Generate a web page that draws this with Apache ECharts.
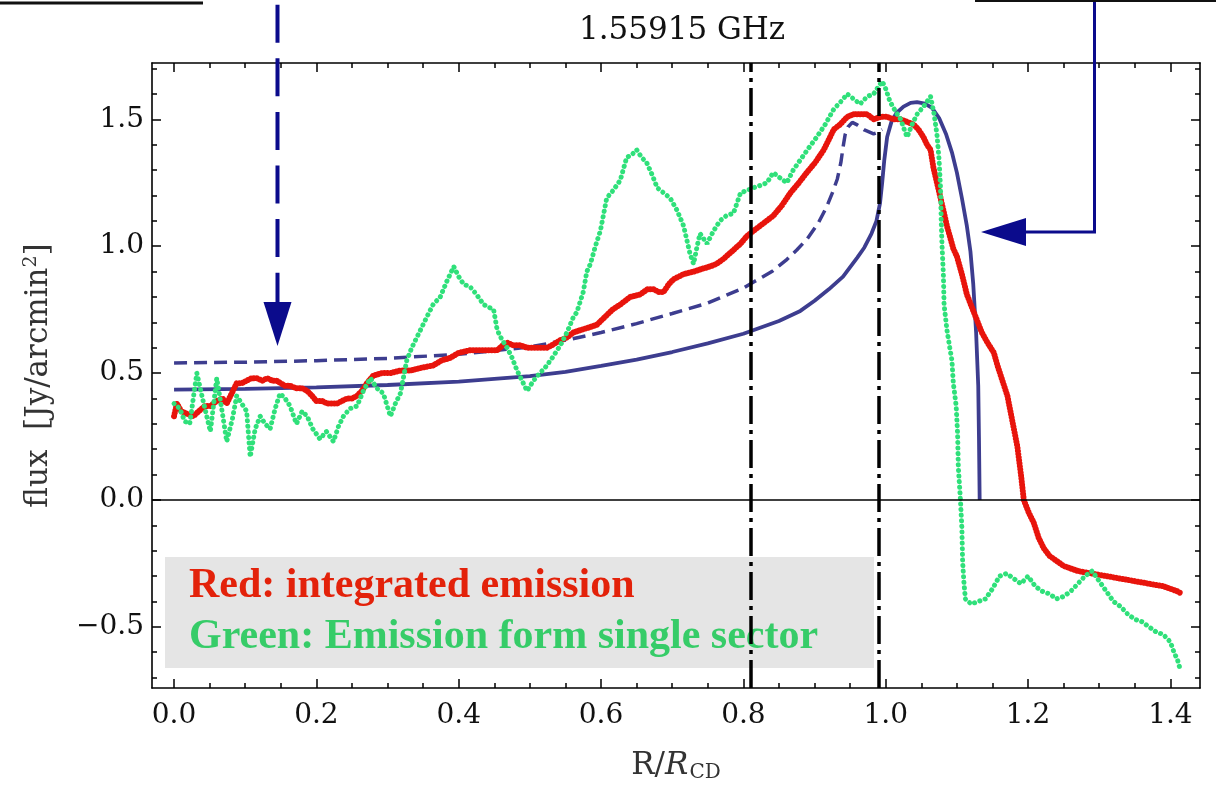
<!DOCTYPE html>
<html>
<head>
<meta charset="utf-8">
<title>1.55915 GHz</title>
<script src="https://cdn.jsdelivr.net/npm/echarts@6/dist/echarts.min.js"></script>
<style>
html, body { margin: 0; padding: 0; background: #fff; }
#chart { width: 1216px; height: 793px; }
</style>
</head>
<body>
<div id="chart"></div>
<script>
// 刻度
const xTicks = [0, 0.2, 0.4, 0.6, 0.8, 1.0, 1.2, 1.4]
const yTicks = [-0.5, 0, 0.5, 1.0, 1.5]
const xRange = [-0.031, 1.4416]
const yRange = [-0.741, 1.722]
// 竖直点划线位置
const markX = [0.815, 0.995]

// 模型曲线 (蓝色实线 / 虚线)
const modelSolid = [
  [0, 0.435], [0.1, 0.438], [0.2, 0.444], [0.3, 0.453], [0.4, 0.466], [0.5, 0.488],
  [0.55, 0.505], [0.6, 0.528], [0.65, 0.553], [0.7, 0.583], [0.75, 0.617], [0.8, 0.655],
  [0.85, 0.705], [0.88, 0.745], [0.9, 0.785], [0.92, 0.83], [0.94, 0.88], [0.96, 0.955],
  [0.97, 0.995], [0.98, 1.05], [0.987, 1.1], [0.992, 1.17], [0.995, 1.25], [0.998, 1.34],
  [1.002, 1.43], [1.008, 1.49], [1.015, 1.525], [1.025, 1.55], [1.035, 1.565], [1.044, 1.568],
  [1.055, 1.562], [1.065, 1.545], [1.075, 1.505], [1.085, 1.44], [1.093, 1.37], [1.1, 1.29],
  [1.107, 1.19], [1.114, 1.08], [1.119, 0.98], [1.123, 0.85], [1.127, 0.66], [1.13, 0.45],
  [1.131, 0.25], [1.132, 0.0]
]
const modelDashed = [
  [0, 0.54], [0.1, 0.543], [0.2, 0.549], [0.3, 0.558], [0.4, 0.574], [0.5, 0.603],
  [0.56, 0.635], [0.6, 0.66], [0.65, 0.695], [0.7, 0.735], [0.75, 0.776], [0.8, 0.835],
  [0.815, 0.86], [0.84, 0.9], [0.86, 0.945], [0.875, 0.985], [0.89, 1.03], [0.905, 1.09],
  [0.917, 1.155], [0.925, 1.21], [0.932, 1.265], [0.937, 1.33], [0.94, 1.39], [0.943, 1.44],
  [0.947, 1.47], [0.953, 1.488], [0.96, 1.478], [0.97, 1.458], [0.983, 1.443], [0.99, 1.45],
  [0.995, 1.46]
]

// 红色: integrated emission
const redEmission = [
  [0, 0.33], [0.004, 0.38], [0.01, 0.35], [0.018, 0.34], [0.027, 0.33], [0.035, 0.35],
  [0.043, 0.37], [0.051, 0.37], [0.06, 0.39], [0.068, 0.4], [0.074, 0.38], [0.081, 0.42],
  [0.088, 0.46], [0.095, 0.46], [0.102, 0.47], [0.109, 0.48], [0.116, 0.48], [0.124, 0.47],
  [0.131, 0.48], [0.138, 0.47], [0.144, 0.47], [0.15, 0.46], [0.156, 0.45], [0.163, 0.45],
  [0.172, 0.44], [0.18, 0.44], [0.187, 0.43], [0.194, 0.41], [0.2, 0.39], [0.208, 0.39],
  [0.215, 0.38], [0.222, 0.38], [0.229, 0.38], [0.236, 0.39], [0.243, 0.4], [0.25, 0.4],
  [0.257, 0.41], [0.264, 0.43], [0.271, 0.46], [0.28, 0.49], [0.292, 0.5], [0.304, 0.5],
  [0.318, 0.51], [0.332, 0.51], [0.346, 0.52], [0.364, 0.53], [0.376, 0.55], [0.388, 0.56],
  [0.4, 0.58], [0.416, 0.59], [0.43, 0.59], [0.442, 0.59], [0.454, 0.59], [0.462, 0.61],
  [0.468, 0.62], [0.476, 0.61], [0.486, 0.61], [0.496, 0.6], [0.508, 0.6], [0.519, 0.6],
  [0.524, 0.6], [0.531, 0.61], [0.543, 0.63], [0.552, 0.64], [0.561, 0.66], [0.572, 0.67],
  [0.583, 0.68], [0.594, 0.69], [0.605, 0.72], [0.616, 0.75], [0.627, 0.77], [0.641, 0.8],
  [0.655, 0.81], [0.665, 0.83], [0.674, 0.83], [0.681, 0.82], [0.688, 0.82], [0.695, 0.85],
  [0.702, 0.87], [0.716, 0.89], [0.73, 0.9], [0.741, 0.91], [0.753, 0.92], [0.762, 0.93],
  [0.772, 0.95], [0.784, 0.98], [0.796, 1.01], [0.805, 1.04], [0.814, 1.06], [0.828, 1.09],
  [0.842, 1.12], [0.854, 1.16], [0.866, 1.21], [0.878, 1.25], [0.889, 1.29], [0.901, 1.33],
  [0.913, 1.38], [0.92, 1.42], [0.927, 1.46], [0.936, 1.48], [0.946, 1.51], [0.955, 1.52],
  [0.964, 1.52], [0.974, 1.52], [0.983, 1.5], [0.993, 1.51], [1.002, 1.51], [1.011, 1.5],
  [1.021, 1.5], [1.03, 1.49], [1.039, 1.48], [1.046, 1.46], [1.053, 1.43], [1.058, 1.4],
  [1.063, 1.38], [1.067, 1.31], [1.072, 1.25], [1.077, 1.19], [1.082, 1.13], [1.086, 1.08],
  [1.091, 1.03], [1.095, 0.99], [1.1, 0.96], [1.107, 0.89], [1.114, 0.81], [1.121, 0.76],
  [1.128, 0.71], [1.135, 0.66], [1.143, 0.62], [1.152, 0.58], [1.157, 0.53], [1.164, 0.47],
  [1.171, 0.41], [1.178, 0.31], [1.185, 0.21], [1.19, 0.1], [1.194, 0.0], [1.201, -0.05],
  [1.208, -0.09], [1.215, -0.15], [1.222, -0.19], [1.23, -0.22], [1.24, -0.24], [1.25, -0.26],
  [1.26, -0.27], [1.27, -0.28], [1.28, -0.285], [1.29, -0.29], [1.3, -0.295], [1.31, -0.3],
  [1.32, -0.305], [1.33, -0.31], [1.34, -0.315], [1.35, -0.32], [1.36, -0.325], [1.37, -0.33],
  [1.38, -0.335], [1.39, -0.34], [1.4, -0.35], [1.41, -0.36], [1.416, -0.37]
]

// 绿色: single sector
const greenSector = [
  [0, 0.38], [0.008, 0.36], [0.015, 0.31], [0.022, 0.3], [0.032, 0.5], [0.04, 0.4],
  [0.051, 0.27], [0.06, 0.48], [0.068, 0.34], [0.074, 0.23], [0.082, 0.32], [0.088, 0.41],
  [0.095, 0.38], [0.102, 0.35], [0.107, 0.17], [0.114, 0.28], [0.121, 0.33], [0.128, 0.3],
  [0.135, 0.28], [0.142, 0.36], [0.149, 0.42], [0.156, 0.4], [0.163, 0.37], [0.172, 0.3],
  [0.18, 0.35], [0.187, 0.33], [0.195, 0.28], [0.205, 0.24], [0.214, 0.27], [0.224, 0.23],
  [0.231, 0.29], [0.238, 0.33], [0.247, 0.36], [0.257, 0.37], [0.266, 0.43], [0.276, 0.48],
  [0.285, 0.44], [0.294, 0.42], [0.304, 0.33], [0.311, 0.38], [0.318, 0.42], [0.327, 0.55],
  [0.334, 0.6], [0.341, 0.64], [0.348, 0.68], [0.355, 0.72], [0.364, 0.77], [0.374, 0.8],
  [0.383, 0.86], [0.393, 0.92], [0.4, 0.88], [0.407, 0.85], [0.416, 0.84], [0.425, 0.81],
  [0.435, 0.77], [0.442, 0.76], [0.449, 0.75], [0.454, 0.67], [0.461, 0.63], [0.468, 0.6],
  [0.475, 0.56], [0.482, 0.51], [0.489, 0.47], [0.496, 0.43], [0.505, 0.47], [0.514, 0.5],
  [0.521, 0.52], [0.529, 0.55], [0.536, 0.58], [0.543, 0.61], [0.552, 0.66], [0.561, 0.72],
  [0.566, 0.74], [0.575, 0.82], [0.58, 0.9], [0.585, 0.93], [0.592, 1.0], [0.599, 1.06],
  [0.608, 1.19], [0.617, 1.22], [0.627, 1.26], [0.636, 1.35], [0.643, 1.36], [0.65, 1.38],
  [0.657, 1.35], [0.664, 1.33], [0.672, 1.28], [0.679, 1.23], [0.688, 1.21], [0.697, 1.19],
  [0.707, 1.14], [0.716, 1.08], [0.725, 0.97], [0.73, 0.93], [0.735, 1.0], [0.739, 1.05],
  [0.744, 1.03], [0.749, 1.01], [0.758, 1.06], [0.767, 1.1], [0.776, 1.12], [0.786, 1.13],
  [0.791, 1.17], [0.796, 1.21], [0.805, 1.22], [0.814, 1.23], [0.824, 1.24], [0.833, 1.25],
  [0.842, 1.29], [0.851, 1.27], [0.861, 1.25], [0.87, 1.3], [0.88, 1.34], [0.89, 1.38],
  [0.903, 1.43], [0.915, 1.48], [0.927, 1.54], [0.937, 1.57], [0.946, 1.6], [0.955, 1.58],
  [0.964, 1.56], [0.974, 1.59], [0.983, 1.6], [0.99, 1.63], [0.995, 1.65], [1.0, 1.62],
  [1.006, 1.57], [1.014, 1.53], [1.021, 1.5], [1.026, 1.46], [1.03, 1.43], [1.037, 1.48],
  [1.044, 1.52], [1.053, 1.55], [1.063, 1.59], [1.068, 1.52], [1.072, 1.44], [1.075, 1.34],
  [1.077, 1.23], [1.078, 1.1], [1.079, 1.01], [1.081, 0.89], [1.082, 0.77], [1.086, 0.67],
  [1.09, 0.6], [1.093, 0.55], [1.095, 0.46], [1.099, 0.37], [1.101, 0.26], [1.102, 0.13],
  [1.105, 0.0], [1.107, -0.11], [1.108, -0.24], [1.11, -0.33], [1.112, -0.39], [1.12, -0.41],
  [1.13, -0.4], [1.14, -0.39], [1.15, -0.35], [1.16, -0.3], [1.17, -0.29], [1.18, -0.31],
  [1.19, -0.33], [1.2, -0.3], [1.21, -0.34], [1.22, -0.36], [1.23, -0.37], [1.24, -0.39],
  [1.25, -0.38], [1.26, -0.36], [1.27, -0.33], [1.28, -0.3], [1.29, -0.28], [1.3, -0.32],
  [1.31, -0.36], [1.32, -0.4], [1.33, -0.42], [1.34, -0.45], [1.35, -0.47], [1.36, -0.48],
  [1.37, -0.5], [1.38, -0.52], [1.39, -0.53], [1.4, -0.56], [1.405, -0.6], [1.41, -0.63],
  [1.413, -0.66]
]

// 次刻度
const xMinor = []
for (let i = 0; i <= 28; i++) if (i % 4) xMinor.push(+(i * 0.05).toFixed(2))
const yMinor = []
for (let i = -7; i <= 17; i++) if (i % 5) yMinor.push(+(i * 0.1).toFixed(1))

const serif = '"DejaVu Serif", serif'
const navy = '#0b0b8c'
const modelColor = '#3d3d8f'

const fmt = (v) => (v < 0 ? '\u2212' : '') + Math.abs(v).toFixed(1)

const frameAxis = (pos, ticks, len, major) => ({
  type: 'value',
  position: pos,
  min: pos === 'bottom' || pos === 'top' ? xRange[0] : yRange[0],
  max: pos === 'bottom' || pos === 'top' ? xRange[1] : yRange[1],
  axisLine: { show: major, onZero: false, lineStyle: { color: '#000', width: 1.6 } },
  axisTick: { show: true, inside: true, length: len, customValues: ticks, lineStyle: { color: '#000', width: 1.5 } },
  axisLabel: { show: false },
  splitLine: { show: false }
})

const chart = echarts.init(document.getElementById('chart'))

const option = {
  animation: false,
  backgroundColor: '#fff',
  title: {
    text: '1.55915 GHz',
    left: 677,
    top: 10,
    textAlign: 'center',
    textStyle: { fontFamily: serif, fontSize: 31, fontWeight: 'normal', color: '#111' }
  },
  grid: { left: 152, right: 16, top: 63, bottom: 105 },
  xAxis: [
    {
      ...frameAxis('bottom', xTicks, 9, true),
      axisLabel: {
        show: true, customValues: xTicks, formatter: fmt, margin: 14,
        fontFamily: serif, fontSize: 28, color: '#111'
      },
      name: '{n|R/}{i|R}{s|CD}',
      nameLocation: 'middle',
      nameGap: 60,
      nameTextStyle: {
        rich: {
          n: { fontFamily: serif, fontSize: 31, color: '#333' },
          i: { fontFamily: serif, fontSize: 31, fontStyle: 'italic', color: '#333' },
          s: { fontFamily: serif, fontSize: 20, color: '#333', padding: [15, 0, 0, 1] }
        }
      }
    },
    frameAxis('bottom', xMinor, 5, false),
    frameAxis('top', xTicks, 9, true),
    frameAxis('top', xMinor, 5, false)
  ],
  yAxis: [
    {
      ...frameAxis('left', yTicks, 9, true),
      axisLabel: {
        show: true, customValues: yTicks, formatter: fmt, margin: 8,
        fontFamily: serif, fontSize: 28, color: '#111'
      },
      name: 'flux  [Jy/arcmin{s|2}]',
      nameLocation: 'middle',
      nameRotate: 90,
      nameGap: 96,
      nameTextStyle: {
        fontFamily: serif, fontSize: 31, color: '#333',
        rich: { s: { fontFamily: serif, fontSize: 19, color: '#333', padding: [0, 0, 15, 0] } }
      }
    },
    frameAxis('left', yMinor, 5, false),
    frameAxis('right', yTicks, 9, true),
    frameAxis('right', yMinor, 5, false)
  ],
  series: [
    {
      // 零线与点划线
      type: 'line',
      data: [],
      z: 1,
      silent: true,
      markLine: {
        silent: true,
        symbol: ['none', 'none'],
        label: { show: false },
        animation: false,
        data: [
          { yAxis: 0, lineStyle: { color: '#000', width: 1.5, type: 'solid' } },
          ...markX.map((v) => ({ xAxis: v, lineStyle: { color: '#000', width: 3.5, type: [28, 6, 4, 6] } }))
        ]
      }
    },
    {
      name: 'model dashed',
      type: 'line',
      data: modelDashed,
      showSymbol: false,
      z: 2,
      lineStyle: { color: modelColor, width: 3.5, type: [13, 7] }
    },
    {
      name: 'model',
      type: 'line',
      data: modelSolid,
      showSymbol: false,
      z: 2,
      lineStyle: { color: modelColor, width: 3.8 }
    },
    {
      name: 'Red: integrated emission',
      type: 'line',
      data: redEmission,
      showSymbol: false,
      z: 3,
      lineStyle: { color: '#e8140c', width: 6, type: [0.1, 3], cap: 'round', join: 'round' }
    },
    {
      name: 'Green: Emission form single sector',
      type: 'line',
      data: greenSector,
      showSymbol: false,
      z: 4,
      lineStyle: { color: '#2fe07a', width: 5, type: [0.1, 5.5], cap: 'round' }
    }
  ],
  graphic: [
    {
      type: 'rect', z: 0, silent: true,
      shape: { x: 165, y: 557, width: 709, height: 111 },
      style: { fill: '#e5e5e5' }
    },
    {
      type: 'text', z: 0, silent: true, x: 189, y: 586,
      style: {
        text: 'Red: integrated emission', fill: '#e3220a',
        font: 'bold 42px "Liberation Serif"', verticalAlign: 'middle'
      }
    },
    {
      type: 'text', z: 0, silent: true, x: 189, y: 637,
      style: {
        text: 'Green: Emission form single sector', fill: '#36cc68',
        font: 'bold 42px "Liberation Serif"', verticalAlign: 'middle'
      }
    },
    // 左侧虚线箭头
    {
      type: 'line', z: 10, silent: true,
      shape: { x1: 277.5, y1: 4.7, x2: 277.5, y2: 305 },
      style: { stroke: navy, lineWidth: 4, lineDash: [38, 15.6] }
    },
    {
      type: 'polygon', z: 10, silent: true,
      shape: { points: [[263.5, 302], [291.5, 302], [277.5, 346]] },
      style: { fill: navy }
    },
    // 右侧折线箭头
    {
      type: 'polyline', z: 10, silent: true,
      shape: { points: [[1094.5, 0], [1094.5, 232], [1022, 232]] },
      style: { stroke: navy, lineWidth: 3, fill: null }
    },
    {
      type: 'polygon', z: 10, silent: true,
      shape: { points: [[1026, 218], [1026, 246], [981, 232]] },
      style: { fill: navy }
    },
    // 顶部残留的框线
    {
      type: 'line', z: 10, silent: true,
      shape: { x1: 0, y1: 3, x2: 203, y2: 3 },
      style: { stroke: '#111', lineWidth: 3 }
    },
    {
      type: 'line', z: 10, silent: true,
      shape: { x1: 975, y1: 1, x2: 1216, y2: 1 },
      style: { stroke: '#111', lineWidth: 2 }
    }
  ]
}

chart.setOption(option)
</script>
</body>
</html>
